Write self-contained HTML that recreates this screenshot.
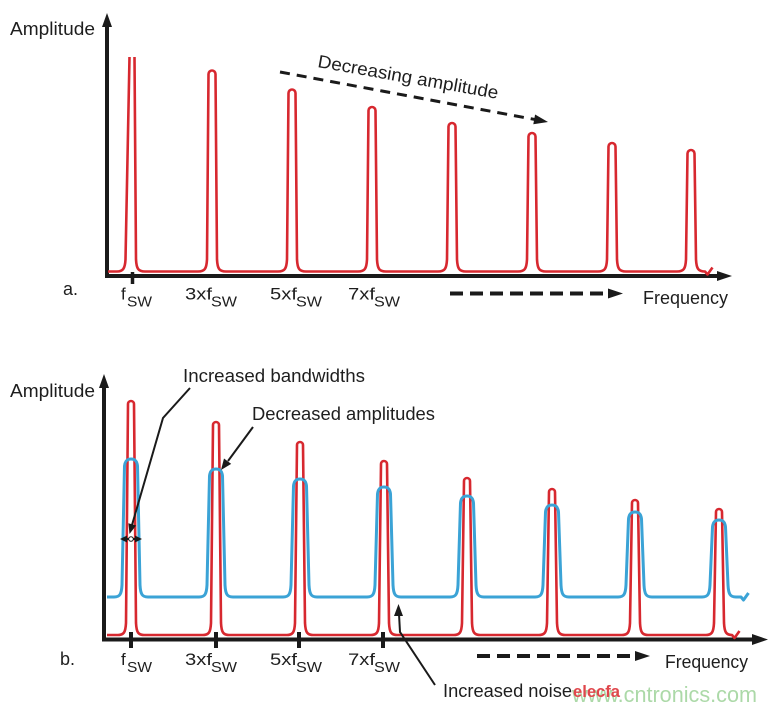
<!DOCTYPE html>
<html>
<head>
<meta charset="utf-8">
<style>
  html, body { margin:0; padding:0; background:#ffffff; }
  body { width:777px; height:711px; overflow:hidden; }
  svg { display:block; }
  text { font-family: "Liberation Sans", "DejaVu Sans", sans-serif; fill:#1e1e1e; }
</style>
</head>
<body>
<svg width="777" height="711" viewBox="0 0 777 711" xmlns="http://www.w3.org/2000/svg">
  <rect x="0" y="0" width="777" height="711" fill="#ffffff"/>

  <!-- ================= PANEL A ================= -->
  <!-- axes -->
  <line x1="107" y1="25" x2="107" y2="278" stroke="#1a1a1a" stroke-width="4"/>
  <polygon points="107,13 102,27 112,27" fill="#1a1a1a"/>
  <line x1="105" y1="276" x2="720" y2="276" stroke="#1a1a1a" stroke-width="4"/>
  <polygon points="732,276 717,271 717,281" fill="#1a1a1a"/>
  <line x1="132.5" y1="272" x2="132.5" y2="284" stroke="#1a1a1a" stroke-width="3.5"/>

  <!-- red spectrum a -->
  <path fill="none" stroke="#d7282f" stroke-width="2.6" stroke-linejoin="round"
    d="M108,271.5 H117 c6,0 8,-3 8.5,-12 L129.5,57 M134.5,57 L136,259.5 c0.5,9 2,12 9,12
       H198 c7,0 8.5,-3 9,-12 l1.5,-185.5 a3.5,3.5 0 0 1 7,0 l1.5,185.5 c0.5,9 2,12 9,12
       H278 c7,0 8.5,-3 9,-12 l1.5,-166.5 a3.5,3.5 0 0 1 7,0 l1.5,166.5 c0.5,9 2,12 9,12
       H358 c7,0 8.5,-3 9,-12 l1.5,-149 a3.5,3.5 0 0 1 7,0 l1.5,149 c0.5,9 2,12 9,12
       H438 c7,0 8.5,-3 9,-12 l1.5,-133 a3.5,3.5 0 0 1 7,0 l1.5,133 c0.5,9 2,12 9,12
       H518 c7,0 8.5,-3 9,-12 l1.5,-123 a3.5,3.5 0 0 1 7,0 l1.5,123 c0.5,9 2,12 9,12
       H598 c7,0 8.5,-3 9,-12 l1.5,-113 a3.5,3.5 0 0 1 7,0 l1.5,113 c0.5,9 2,12 9,12
       H677 c7,0 8.5,-3 9,-12 l1.5,-106 a3.5,3.5 0 0 1 7,0 l1.5,106 c0.5,9 2,12 9,12
       l2.5,3 l5,-7"/>

  <!-- decreasing amplitude dashed arrow -->
  <line x1="280" y1="72" x2="536" y2="119.7" stroke="#1a1a1a" stroke-width="3" stroke-dasharray="10 7"/>
  <polygon points="548,122 533.3,124.3 535.1,114.5" fill="#1a1a1a"/>
  <text x="0" y="0" font-size="18" transform="translate(317,67) rotate(10)" textLength="183" lengthAdjust="spacingAndGlyphs">Decreasing amplitude</text>

  <!-- labels a -->
  <text x="10" y="35" font-size="18" textLength="85" lengthAdjust="spacingAndGlyphs">Amplitude</text>
  <text x="63" y="295" font-size="18">a.</text>
  <text x="121" y="299.5" font-size="17">f</text>
  <text x="127" y="306.5" font-size="15" textLength="25" lengthAdjust="spacingAndGlyphs">SW</text>
  <text x="185" y="299.5" font-size="17" textLength="27" lengthAdjust="spacingAndGlyphs">3xf</text>
  <text x="211" y="306.5" font-size="15" textLength="26" lengthAdjust="spacingAndGlyphs">SW</text>
  <text x="270" y="299.5" font-size="17" textLength="27" lengthAdjust="spacingAndGlyphs">5xf</text>
  <text x="296" y="306.5" font-size="15" textLength="26" lengthAdjust="spacingAndGlyphs">SW</text>
  <text x="348" y="299.5" font-size="17" textLength="27" lengthAdjust="spacingAndGlyphs">7xf</text>
  <text x="374" y="306.5" font-size="15" textLength="26" lengthAdjust="spacingAndGlyphs">SW</text>

  <line x1="450" y1="293.5" x2="608" y2="293.5" stroke="#1a1a1a" stroke-width="4" stroke-dasharray="13 7"/>
  <polygon points="623,293.5 608,288.5 608,298.5" fill="#1a1a1a"/>
  <text x="643" y="304" font-size="18" textLength="85" lengthAdjust="spacingAndGlyphs">Frequency</text>

  <!-- ================= PANEL B ================= -->
  <line x1="104" y1="386" x2="104" y2="641.5" stroke="#1a1a1a" stroke-width="4"/>
  <polygon points="104,374 99,388 109,388" fill="#1a1a1a"/>
  <line x1="102" y1="639.5" x2="755" y2="639.5" stroke="#1a1a1a" stroke-width="4"/>
  <polygon points="768,639.5 752,634 752,645" fill="#1a1a1a"/>
  <line x1="131" y1="632" x2="131" y2="648" stroke="#1a1a1a" stroke-width="4"/>
  <line x1="216" y1="632" x2="216" y2="648" stroke="#1a1a1a" stroke-width="4"/>
  <line x1="299" y1="632" x2="299" y2="648" stroke="#1a1a1a" stroke-width="4"/>
  <line x1="383" y1="632" x2="383" y2="648" stroke="#1a1a1a" stroke-width="4"/>

  <!-- red spectrum b -->
  <path fill="none" stroke="#d7282f" stroke-width="2.6" stroke-linejoin="round"
    d="M107,635 H118 c6,0 7.5,-3 8,-12 l2,-219 a3,3 0 0 1 6,0 l2,219 c0.5,9 2,12 8,12
       H203 c6,0 7.5,-3 8,-12 l2,-198 a3,3 0 0 1 6,0 l2,198 c0.5,9 2,12 8,12
       H287 c6,0 7.5,-3 8,-12 l2,-178 a3,3 0 0 1 6,0 l2,178 c0.5,9 2,12 8,12
       H371 c6,0 7.5,-3 8,-12 l2,-159 a3,3 0 0 1 6,0 l2,159 c0.5,9 2,12 8,12
       H454 c6,0 7.5,-3 8,-12 l2,-142 a3,3 0 0 1 6,0 l2,142 c0.5,9 2,12 8,12
       H539 c6,0 7.5,-3 8,-12 l2,-131 a3,3 0 0 1 6,0 l2,131 c0.5,9 2,12 8,12
       H622 c6,0 7.5,-3 8,-12 l2,-120 a3,3 0 0 1 6,0 l2,120 c0.5,9 2,12 8,12
       H706 c6,0 7.5,-3 8,-12 l2,-111 a3,3 0 0 1 6,0 l2,111 c0.5,9 2,12 8,12
       l2.5,3 l5,-7"/>

  <!-- blue spectrum b -->
  <path fill="none" stroke="#3ba3d6" stroke-width="3" stroke-linejoin="round"
    d="M107,597 H114 c6,0 7.5,-3 8,-12 l2.5,-119 c0.5,-4.5 2,-7 6.5,-7 c4.5,0 6,2.5 6.5,7 l2.5,119 c0.5,9 2,12 8,12
       H199 c6,0 7.5,-3 8,-12 l2.5,-109 c0.5,-4.5 2,-7 6.5,-7 c4.5,0 6,2.5 6.5,7 l2.5,109 c0.5,9 2,12 8,12
       H283 c6,0 7.5,-3 8,-12 l2.5,-99 c0.5,-4.5 2,-7 6.5,-7 c4.5,0 6,2.5 6.5,7 l2.5,99 c0.5,9 2,12 8,12
       H367 c6,0 7.5,-3 8,-12 l2.5,-91 c0.5,-4.5 2,-7 6.5,-7 c4.5,0 6,2.5 6.5,7 l2.5,91 c0.5,9 2,12 8,12
       H450 c6,0 7.5,-3 8,-12 l2.5,-82 c0.5,-4.5 2,-7 6.5,-7 c4.5,0 6,2.5 6.5,7 l2.5,82 c0.5,9 2,12 8,12
       H535 c6,0 7.5,-3 8,-12 l2.5,-73 c0.5,-4.5 2,-7 6.5,-7 c4.5,0 6,2.5 6.5,7 l2.5,73 c0.5,9 2,12 8,12
       H618 c6,0 7.5,-3 8,-12 l2.5,-66 c0.5,-4.5 2,-7 6.5,-7 c4.5,0 6,2.5 6.5,7 l2.5,66 c0.5,9 2,12 8,12
       H702 c6,0 7.5,-3 8,-12 l2.5,-58 c0.5,-4.5 2,-7 6.5,-7 c4.5,0 6,2.5 6.5,7 l2.5,58 c0.5,9 2,12 8,12
       H741 l2.5,3 l5,-7"/>

  <!-- annotations -->
  <polyline points="190,388 163,418 132,525" fill="none" stroke="#1a1a1a" stroke-width="2"/>
  <polygon points="129.5,534 136.1,525.5 128.4,523.3" fill="#1a1a1a"/>
  <line x1="124" y1="539" x2="138" y2="539" stroke="#1a1a1a" stroke-width="2"/>
  <polygon points="120,539 127,535.5 127,542.5" fill="#1a1a1a"/>
  <polygon points="142,539 135,535.5 135,542.5" fill="#1a1a1a"/>
  <circle cx="131" cy="539" r="2.3" fill="#ffffff" stroke="#1a1a1a" stroke-width="1"/>

  <line x1="253" y1="427" x2="228" y2="461" stroke="#1a1a1a" stroke-width="2"/>
  <polygon points="221,470 231.2,463.9 224,458.5" fill="#1a1a1a"/>

  <polyline points="435,685 400,632 399,614" fill="none" stroke="#1a1a1a" stroke-width="2"/>
  <polygon points="398.5,604 394,616 403,616" fill="#1a1a1a"/>

  <!-- labels b -->
  <text x="10" y="397" font-size="18" textLength="85" lengthAdjust="spacingAndGlyphs">Amplitude</text>
  <text x="183" y="382" font-size="18" textLength="182" lengthAdjust="spacingAndGlyphs">Increased bandwidths</text>
  <text x="252" y="420" font-size="18" textLength="183" lengthAdjust="spacingAndGlyphs">Decreased amplitudes</text>
  <text x="60" y="665" font-size="18">b.</text>
  <text x="121" y="665" font-size="17">f</text>
  <text x="127" y="672" font-size="15" textLength="25" lengthAdjust="spacingAndGlyphs">SW</text>
  <text x="185" y="665" font-size="17" textLength="27" lengthAdjust="spacingAndGlyphs">3xf</text>
  <text x="211" y="672" font-size="15" textLength="26" lengthAdjust="spacingAndGlyphs">SW</text>
  <text x="270" y="665" font-size="17" textLength="27" lengthAdjust="spacingAndGlyphs">5xf</text>
  <text x="296" y="672" font-size="15" textLength="26" lengthAdjust="spacingAndGlyphs">SW</text>
  <text x="348" y="665" font-size="17" textLength="27" lengthAdjust="spacingAndGlyphs">7xf</text>
  <text x="374" y="672" font-size="15" textLength="26" lengthAdjust="spacingAndGlyphs">SW</text>

  <line x1="477" y1="656" x2="636" y2="656" stroke="#1a1a1a" stroke-width="4" stroke-dasharray="13 7"/>
  <polygon points="650,656 635,651 635,661" fill="#1a1a1a"/>
  <text x="665" y="668" font-size="18" textLength="83" lengthAdjust="spacingAndGlyphs">Frequency</text>

  <!-- watermark -->
  <text x="757" y="702" font-size="22" text-anchor="end" style="fill:#acd9a8" textLength="185" lengthAdjust="spacingAndGlyphs">www.cntronics.com</text>
  <text x="443" y="697" font-size="18" textLength="129" lengthAdjust="spacingAndGlyphs">Increased noise</text>
  <text x="573" y="697" font-size="17" font-weight="bold" style="fill:#e0474c" textLength="47" lengthAdjust="spacingAndGlyphs">elecfa</text>
</svg>
</body>
</html>
